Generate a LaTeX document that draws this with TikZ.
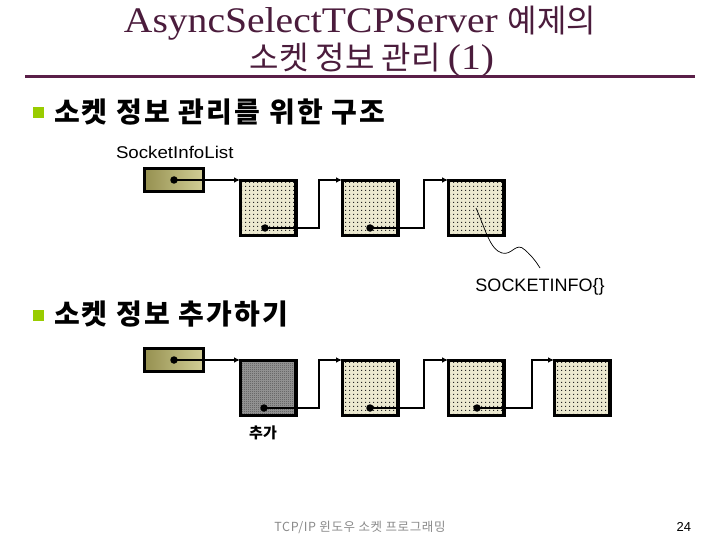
\documentclass[tikz,border=0pt]{standalone}
\usepackage{fontspec}
\setmainfont{Liberation Serif}
\setsansfont{Liberation Sans}
\newfontfamily\kr{Noto Sans CJK KR}
\newfontfamily\krs[LetterSpace=8]{Noto Sans CJK KR}
\newfontfamily\krf[LetterSpace=5]{Noto Sans CJK KR}
\newfontfamily\ttl[FakeStretch=1.1]{Liberation Serif}
\newfontfamily\wsans[FakeStretch=1.1]{Liberation Sans}
\usetikzlibrary{patterns,patterns.meta,arrows.meta}
\definecolor{titlec}{HTML}{4B1C3C}
\definecolor{rulec}{HTML}{5A1F48}
\definecolor{bulletc}{HTML}{99CC00}
\definecolor{oliveL}{HTML}{959050}
\definecolor{oliveR}{HTML}{D2CE96}
\definecolor{beige}{HTML}{ECE9D0}
\definecolor{footc}{HTML}{8A8A8A}
\tikzdeclarepattern{name=sparsedots,type=uncolored,
  bottom left={(0pt,0pt)},top right={(4pt,4pt)},tile size={(4pt,4pt)},
  code={\fill (1.5pt,1.5pt) rectangle (2.5pt,2.5pt);}}
\tikzdeclarepattern{name=checker,type=uncolored,
  bottom left={(0pt,0pt)},top right={(2pt,2pt)},tile size={(2pt,2pt)},
  code={\fill (0pt,0pt) rectangle (1pt,1pt); \fill (1pt,1pt) rectangle (2pt,2pt);}}
\begin{document}
\begin{tikzpicture}[x=1pt,y=-1pt,
  every node/.style={inner sep=0pt,outer sep=0pt},
  headbox/.style={draw=black,line width=3pt,minimum width=59pt,minimum height=23pt,left color=oliveL,right color=oliveR},
  infobox/.style={draw=black,line width=3.3pt,minimum width=55.7pt,minimum height=55pt,preaction={fill=beige},pattern=sparsedots,pattern color=black!85},
  newbox/.style={draw=black,line width=3.3pt,minimum width=55.7pt,minimum height=55pt,preaction={fill=gray!75},pattern=checker,pattern color=black!80},
  ptdot/.style={circle,fill=black,minimum size=7.5pt},
  link/.style={line width=2pt,-{Latex[length=6pt,width=5.5pt]}},
  bulletsq/.style={fill=bulletc,minimum size=11pt},
  bullettext/.style={anchor=west,font=\krs\bfseries\fontsize{28}{32}\selectfont},
  label/.style={font=\sffamily\fontsize{18}{20}\selectfont}]
\useasboundingbox (0,0) rectangle (720,540);
% title
\node[text=titlec,font=\ttl\fontsize{36}{40}\selectfont] (t1) at (360,23) {AsyncSelectTCPServer {\kr\fontsize{32}{36}\selectfont 예제의}};
\node[text=titlec,font=\kr\fontsize{32}{36}\selectfont] (t2) at (372,60) {소켓 정보 관리 {\ttl\fontsize{36}{40}\selectfont (1)}};
\draw[rulec,line width=3pt] (25,77) -- (695,77);
% bullet 1
\node[bulletsq] (bl1) at (38,113) {};
\node[bullettext] (bt1) at (54,112) {소켓 정보 관리를 위한 구조};
\node[anchor=west,font=\wsans\fontsize{17}{19}\selectfont] (sil) at (116,152) {SocketInfoList};
% row 1
\node[headbox] (h1) at (174,180) {};
\node[infobox] (a1) at (268,208) {};
\node[infobox] (a2) at (370,208) {};
\node[infobox] (a3) at (476,208) {};
\node[ptdot] (hd1) at (174,180) {};
\node[ptdot] (ad1) at (265,228) {};
\node[ptdot] (ad2) at (370,228) {};
\coordinate (ag1) at (319,180);
\coordinate (ag2) at (424,180);
\draw[link] (hd1.center) -- (hd1.center -| a1.west);
\draw[link] (ad1.center) -| (ag1) -- (ag1 -| a2.west);
\draw[link] (ad2.center) -| (ag2) -- (ag2 -| a3.west);
\coordinate (wv) at (540,268);
\draw[line width=0.7pt] (a3.center) .. controls (485,228) and (490,250) .. (502,253) .. controls (512,256) and (516,241) .. (525,250) .. controls (532,256) and (537,263) .. (wv);
\node[label] (sinfo) at (540,287) {SOCKETINFO\{\}};
% bullet 2
\node[bulletsq] (bl2) at (38,315) {};
\node[bullettext] (bt2) at (54,314) {소켓 정보 추가하기};
% row 2
\node[headbox] (h2) at (174,360) {};
\node[newbox] (b1) at (268,388) {};
\node[infobox] (b2) at (370,388) {};
\node[infobox] (b3) at (476,388) {};
\node[infobox] (b4) at (582,388) {};
\node[ptdot] (hd2) at (174,360) {};
\node[ptdot] (bd1) at (264,408) {};
\node[ptdot] (bd2) at (370,408) {};
\node[ptdot] (bd3) at (477,408) {};
\coordinate (bg1) at (319,360);
\coordinate (bg2) at (424,360);
\coordinate (bg3) at (532,360);
\draw[link] (hd2.center) -- (hd2.center -| b1.west);
\draw[link] (bd1.center) -| (bg1) -- (bg1 -| b2.west);
\draw[link] (bd2.center) -| (bg2) -- (bg2 -| b3.west);
\draw[link] (bd3.center) -| (bg3) -- (bg3 -| b4.west);
\node[font=\kr\bfseries\fontsize{15}{17}\selectfont] (add) at (263,433) {추가};
% footer
\node[text=footc,font=\krf\fontsize{12.5}{14}\selectfont] (foot) at (360,527) {TCP/IP 윈도우 소켓 프로그래밍};
\node[anchor=east,font=\sffamily\fontsize{13}{15}\selectfont] (pg) at (691,527) {24};
\end{tikzpicture}
\end{document}
